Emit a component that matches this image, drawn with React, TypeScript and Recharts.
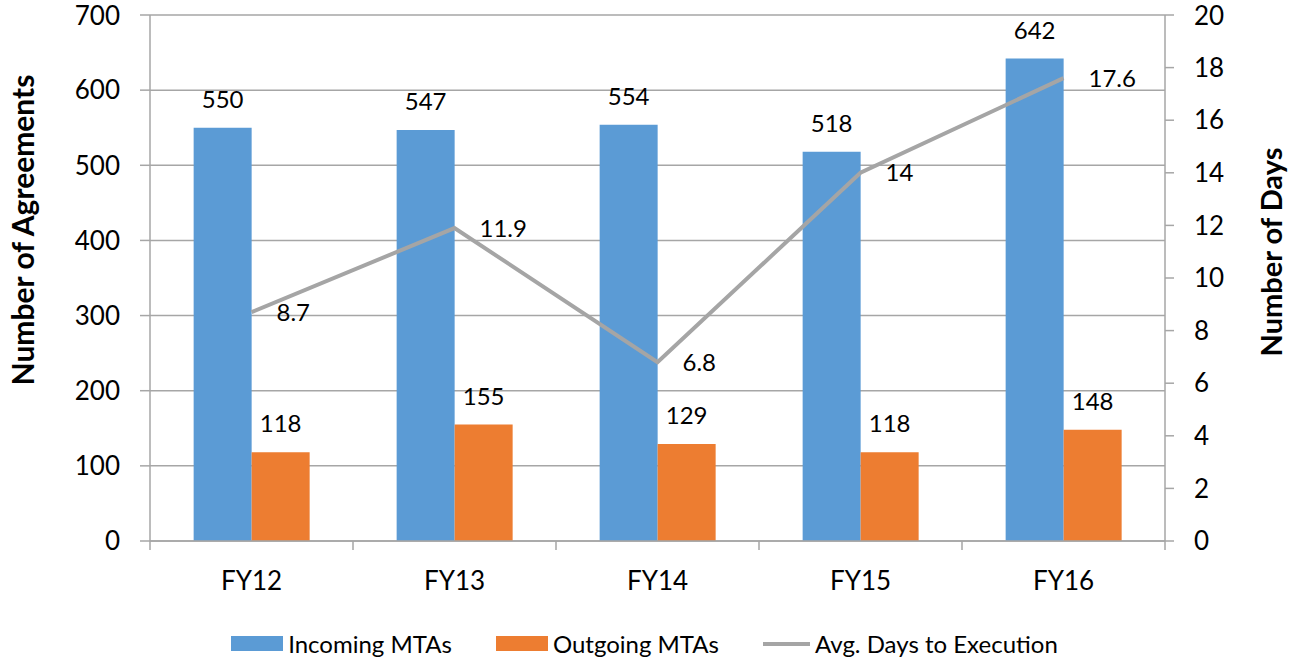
import React from 'react';
import {
  ComposedChart, Bar, Line, XAxis, YAxis, CartesianGrid, Legend, LabelList, Label,
} from 'recharts';

const categories = ['FY12', 'FY13', 'FY14', 'FY15', 'FY16'];
const incoming = [550, 547, 554, 518, 642];
const outgoing = [118, 155, 129, 118, 148];
const avgDays = [8.7, 11.9, 6.8, 14, 17.6];
const leftTicks = [0, 100, 200, 300, 400, 500, 600, 700];
const rightTicks = [0, 2, 4, 6, 8, 10, 12, 14, 16, 18, 20];

const data = categories.map((c, i) => ({
  cat: c,
  incoming: incoming[i],
  outgoing: outgoing[i],
  days: avgDays[i],
}));

const FONT = 'Lato, "Open Sans", sans-serif';
const BLUE = '#5B9BD5';
const ORANGE = '#ED7D31';
const GRAY = '#A5A5A5';
const AXIS = '#A6A6A6';
const X_TICK_SIZE = 8;
const X_TICK_MARGIN = 23;

const LegendContent = () => (
  <div style={{ display: 'flex', justifyContent: 'center', alignItems: 'center', fontFamily: FONT, fontSize: 24, color: '#000' }}>
    <div style={{ display: 'flex', alignItems: 'center', marginRight: 44 }}>
      <div style={{ width: 52, height: 15, background: BLUE, marginRight: 5 }} />
      <span>Incoming MTAs</span>
    </div>
    <div style={{ display: 'flex', alignItems: 'center', marginRight: 44 }}>
      <div style={{ width: 52, height: 15, background: ORANGE, marginRight: 5 }} />
      <span>Outgoing MTAs</span>
    </div>
    <div style={{ display: 'flex', alignItems: 'center' }}>
      <div style={{ width: 47, height: 4, background: GRAY, marginRight: 5 }} />
      <span>Avg. Days to Execution</span>
    </div>
  </div>
);

const LeftTitle = () => {
  const cx = 22;
  const cy = 230;
  return (
    <text x={cx} y={cy} transform={`rotate(-90, ${cx}, ${cy})`} textAnchor="middle" dominantBaseline="central"
      style={{ fontFamily: FONT, fontSize: 30, fontWeight: 700, fill: '#000' }}>
      Number of Agreements
    </text>
  );
};

const RightTitle = () => {
  const cx = 1270;
  const cy = 252;
  return (
    <text x={cx} y={cy} transform={`rotate(-90, ${cx}, ${cy})`} textAnchor="middle" dominantBaseline="central"
      style={{ fontFamily: FONT, fontSize: 29, fontWeight: 700, fill: '#000' }}>
      Number of Days
    </text>
  );
};

const CategoryTick = (props: any) => {
  const { x, y, payload, width, visibleTicksCount, index } = props;
  const band = width / visibleTicksCount;
  const axisY = y - X_TICK_SIZE - X_TICK_MARGIN;
  const lines = [x - band / 2];
  if (index === visibleTicksCount - 1) lines.push(x + band / 2);
  return (
    <g>
      {lines.map((lx, i) => (
        <line key={i} x1={lx} x2={lx} y1={axisY} y2={axisY + 9} stroke={AXIS} strokeWidth={1.5} />
      ))}
      <text x={x} y={y} dy="0.71em" textAnchor="middle"
        style={{ fontFamily: FONT, fontSize: 26, fill: '#000' }}>
        {payload.value}
      </text>
    </g>
  );
};

export default function App() {
  return (
    <div style={{ position: 'absolute', left: 0, top: 0, width: 1289, height: 662, background: '#fff' }}>
      <ComposedChart
        width={1289}
        height={662}
        data={data}
        margin={{ top: 15, right: 0, bottom: 71, left: 0 }}
        barCategoryGap="21.5%"
        barGap={0}
      >
        <CartesianGrid yAxisId="left" vertical={false} stroke={AXIS} strokeWidth={1.5} />
        <XAxis
          dataKey="cat"
          height={50}
          axisLine={{ stroke: AXIS, strokeWidth: 1.5 }}
          tickLine={false}
          tickSize={X_TICK_SIZE}
          tickMargin={X_TICK_MARGIN}
          tick={CategoryTick}
          interval={0}
        />
        <YAxis
          yAxisId="left"
          width={150}
          domain={[0, 700]}
          ticks={leftTicks}
          axisLine={{ stroke: AXIS, strokeWidth: 1.5 }}
          tickLine={{ stroke: AXIS, strokeWidth: 1.5 }}
          tickSize={10}
          tickMargin={20}
          tick={{ fontFamily: FONT, fontSize: 26, fill: '#000' }}
        >
          <Label content={LeftTitle} />
        </YAxis>
        <YAxis
          yAxisId="right"
          orientation="right"
          width={124}
          domain={[0, 20]}
          ticks={rightTicks}
          axisLine={{ stroke: AXIS, strokeWidth: 1.5 }}
          tickLine={{ stroke: AXIS, strokeWidth: 1.5 }}
          tickSize={9}
          tickMargin={20}
          tick={{ fontFamily: FONT, fontSize: 26, fill: '#000' }}
        >
          <Label content={RightTitle} />
        </YAxis>
        <Bar yAxisId="left" dataKey="incoming" name="Incoming MTAs" fill={BLUE} isAnimationActive={false}>
          <LabelList dataKey="incoming" position="top" offset={20}
            style={{ fontFamily: FONT, fontSize: 24, fill: '#000' }} />
        </Bar>
        <Bar yAxisId="left" dataKey="outgoing" name="Outgoing MTAs" fill={ORANGE} isAnimationActive={false}>
          <LabelList dataKey="outgoing" position="top" offset={20}
            style={{ fontFamily: FONT, fontSize: 24, fill: '#000' }} />
        </Bar>
        <Line yAxisId="right" dataKey="days" name="Avg. Days to Execution" stroke={GRAY} strokeWidth={4}
          dot={false} activeDot={false} isAnimationActive={false}>
          <LabelList dataKey="days" position="right" offset={25}
            style={{ fontFamily: FONT, fontSize: 24, fill: '#000' }} />
        </Line>
        <Legend
          layout="horizontal"
          verticalAlign="middle"
          align="center"
          content={LegendContent}
          wrapperStyle={{ position: 'absolute', top: 629, left: 0, width: 1289 }}
        />
      </ComposedChart>
    </div>
  );
}
